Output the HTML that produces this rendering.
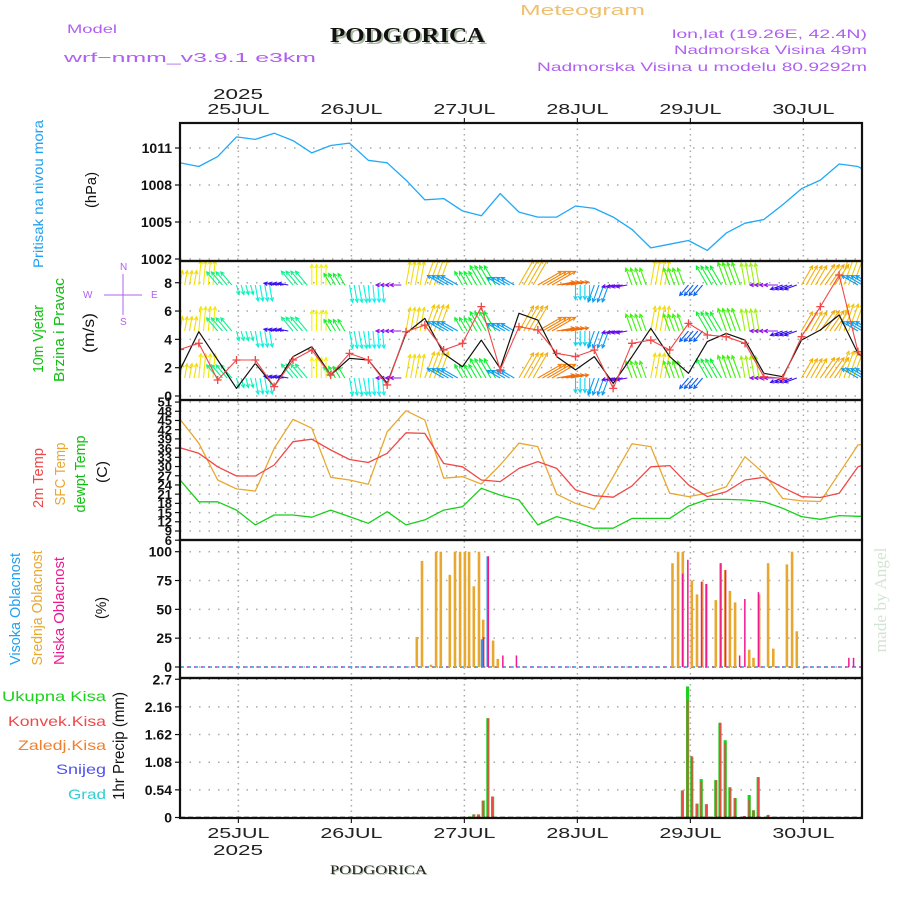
<!DOCTYPE html>
<html><head><meta charset="utf-8"><style>
html,body{margin:0;padding:0;background:#fff;}
svg{display:block;font-family:"Liberation Sans",sans-serif;}
</style></head><body>
<svg id="chart" width="900" height="900" viewBox="0 0 900 900" xmlns="http://www.w3.org/2000/svg">
<defs>
<clipPath id="cp1"><rect x="181" y="124" width="681" height="137"/></clipPath>
<clipPath id="cp2"><rect x="181" y="262" width="681" height="138"/></clipPath>
<clipPath id="cp3"><rect x="181" y="401" width="681" height="139"/></clipPath>
<clipPath id="cp4"><rect x="181" y="541" width="681" height="137"/></clipPath>
<clipPath id="cp5"><rect x="181" y="679" width="681" height="139"/></clipPath>
</defs>
<text x="67" y="33" font-size="12" fill="#b060f0" textLength="50" lengthAdjust="spacingAndGlyphs">Model</text>
<text x="64" y="62" font-size="13" fill="#b060f0" textLength="252" lengthAdjust="spacingAndGlyphs">wrf−nmm_v3.9.1 e3km</text>
<text x="332" y="44" font-size="21" font-weight="bold" font-family="Liberation Serif,serif" fill="#a8b8a0" textLength="155" lengthAdjust="spacingAndGlyphs">PODGORICA</text>
<text x="330" y="42" font-size="21" font-weight="bold" font-family="Liberation Serif,serif" fill="#111" textLength="155" lengthAdjust="spacingAndGlyphs">PODGORICA</text>
<text x="520" y="15" font-size="15" fill="#f0c070" textLength="125" lengthAdjust="spacingAndGlyphs">Meteogram</text>
<text x="867" y="38" font-size="12" fill="#b060f0" text-anchor="end" textLength="195" lengthAdjust="spacingAndGlyphs">lon,lat (19.26E, 42.4N)</text>
<text x="867" y="54" font-size="12" fill="#b060f0" text-anchor="end" textLength="193" lengthAdjust="spacingAndGlyphs">Nadmorska Visina 49m</text>
<text x="867" y="71" font-size="12" fill="#b060f0" text-anchor="end" textLength="330" lengthAdjust="spacingAndGlyphs">Nadmorska Visina u modelu 80.9292m</text>
<text x="238" y="99" font-size="15" fill="#222" text-anchor="middle" textLength="50" lengthAdjust="spacingAndGlyphs">2025</text>
<text x="238" y="855" font-size="15" fill="#222" text-anchor="middle" textLength="50" lengthAdjust="spacingAndGlyphs">2025</text>
<text x="331" y="875" font-size="13" font-family="Liberation Serif,serif" fill="#a8b8a0" textLength="97" lengthAdjust="spacingAndGlyphs">PODGORICA</text>
<text x="330" y="874" font-size="13" font-family="Liberation Serif,serif" fill="#222" textLength="97" lengthAdjust="spacingAndGlyphs">PODGORICA</text>
<text transform="translate(886,600) rotate(-90)" font-size="17" font-family="Liberation Serif,serif" fill="#d4e4d4" text-anchor="middle" textLength="105" lengthAdjust="spacingAndGlyphs">made by Angel</text>

<text transform="translate(43,194) rotate(-90)" font-size="14" fill="#20a0f0" text-anchor="middle" textLength="148" lengthAdjust="spacingAndGlyphs">Pritisak na nivou mora</text>
<text transform="translate(96,190) rotate(-90)" font-size="15" fill="#111" text-anchor="middle" textLength="36" lengthAdjust="spacingAndGlyphs">(hPa)</text>
<text transform="translate(43,339) rotate(-90)" font-size="15" fill="#10c010" text-anchor="middle" textLength="68" lengthAdjust="spacingAndGlyphs">10m Vjetar</text>
<text transform="translate(64,330) rotate(-90)" font-size="15" fill="#10c010" text-anchor="middle" textLength="104" lengthAdjust="spacingAndGlyphs">Brzina i Pravac</text>
<text transform="translate(94,333) rotate(-90)" font-size="16" fill="#111" text-anchor="middle" textLength="40" lengthAdjust="spacingAndGlyphs">(m/s)</text>
<g stroke="#b060f0" fill="#b060f0" font-size="10">
<text x="120" y="270" stroke="none">N</text><text x="120" y="325" stroke="none">S</text>
<text x="83" y="298" stroke="none">W</text><text x="151" y="298" stroke="none">E</text>
<line x1="104" y1="295" x2="142" y2="295" stroke-width="1"/><line x1="123" y1="274" x2="123" y2="315" stroke-width="1"/>
</g>
<text transform="translate(43,478) rotate(-90)" font-size="15" fill="#f04848" text-anchor="middle" textLength="60" lengthAdjust="spacingAndGlyphs">2m Temp</text>
<text transform="translate(65,474) rotate(-90)" font-size="15" fill="#e8a830" text-anchor="middle" textLength="63" lengthAdjust="spacingAndGlyphs">SFC Temp</text>
<text transform="translate(85,474) rotate(-90)" font-size="15" fill="#10c010" text-anchor="middle" textLength="77" lengthAdjust="spacingAndGlyphs">dewpt Temp</text>
<text transform="translate(107,472) rotate(-90)" font-size="15" fill="#111" text-anchor="middle" textLength="22" lengthAdjust="spacingAndGlyphs">(C)</text>
<text transform="translate(20,609) rotate(-90)" font-size="15" fill="#20a0f0" text-anchor="middle" textLength="112" lengthAdjust="spacingAndGlyphs">Visoka Oblacnost</text>
<text transform="translate(42,608) rotate(-90)" font-size="15" fill="#e8a830" text-anchor="middle" textLength="115" lengthAdjust="spacingAndGlyphs">Srednja Oblacnost</text>
<text transform="translate(64,611) rotate(-90)" font-size="15" fill="#f01890" text-anchor="middle" textLength="108" lengthAdjust="spacingAndGlyphs">Niska Oblacnost</text>
<text transform="translate(106,608) rotate(-90)" font-size="15" fill="#111" text-anchor="middle" textLength="22" lengthAdjust="spacingAndGlyphs">(%)</text>
<g font-size="14" text-anchor="end">
<text x="106" y="701" fill="#20d020" textLength="104" lengthAdjust="spacingAndGlyphs">Ukupna Kisa</text>
<text x="106" y="726" fill="#f04848" textLength="98" lengthAdjust="spacingAndGlyphs">Konvek.Kisa</text>
<text x="106" y="750" fill="#f08030" textLength="88" lengthAdjust="spacingAndGlyphs">Zaledj.Kisa</text>
<text x="106" y="774" fill="#5050f0" textLength="50" lengthAdjust="spacingAndGlyphs">Snijeg</text>
<text x="106" y="799" fill="#30d0d0" textLength="38" lengthAdjust="spacingAndGlyphs">Grad</text>
</g>
<text transform="translate(124,746) rotate(-90)" font-size="16" fill="#111" text-anchor="middle" textLength="108" lengthAdjust="spacingAndGlyphs">1hr Precip (mm)</text>
<g id="grid"></g><g id="marks"></g><g id="frames"></g>
</svg>
<script>
// ---- data (4-hourly, starting 24JUL ~12Z) ----
const dayLabels = ["25JUL","26JUL","27JUL","28JUL","29JUL","30JUL"];
const dayHours = [12.4,36.4,60.4,84.4,108.4,132.4];
const pressure = [1009.8,1009.5,1010.3,1011.9,1011.7,1012.2,1011.6,1010.6,1011.2,1011.4,1010.0,1009.8,1008.4,1006.8,1006.9,1005.9,1005.5,1007.3,1005.8,1005.4,1005.4,1006.3,1006.1,1005.4,1004.4,1002.9,1003.2,1003.5,1002.7,1004.1,1004.9,1005.2,1006.4,1007.7,1008.4,1009.7,1009.5,1008.6];
const temp2m = [36.1,34.3,29.9,26.9,26.9,30.5,38.1,38.9,35.4,32.3,31.3,34.3,41,40.8,31,29.9,25.6,25.1,29.4,31.6,29.4,22.4,20.5,20,23.7,29.9,30.3,24,20.2,21.8,25.6,26.5,23.2,20.2,19.9,21.3,29.9,31.8];
const tempSfc = [45.4,37.6,25.6,22.7,22,35.9,45.4,42.5,26.5,25.6,24.2,41.3,48.2,45.2,26.2,26.7,24.3,30.5,37.6,36.5,21,18,16.1,26.7,37.4,36.5,21.3,20.2,21.3,23.4,33.2,27.8,19.6,18.8,18.6,27.8,37,37.8];
const dewpt = [25.6,18.5,18.5,15.8,11,14.2,14.2,13.5,15.8,13.7,11.5,15.3,11,12.6,15.8,16.9,22.9,20.7,19.1,11,13.7,12,9.9,9.9,13.1,13.1,13.1,17.1,19.3,19.3,19.1,18.5,16.4,13.7,12.8,14,13.8,13.7];
const windSpeed = [1.84,4.54,2.54,0.54,2.3,0.66,2.78,3.48,1.48,2.66,2.54,0.89,4.42,5.48,3.0,2.07,3.95,1.95,5.84,5.36,2.78,1.84,2.78,0.89,2.78,4.78,2.78,1.6,3.84,4.42,3.95,1.6,1.36,3.95,4.66,5.72,3.0,2.0];
const windGust = [3.29,3.72,1.13,2.54,2.54,0.66,2.54,3.25,1.48,3.01,2.54,0.78,4.54,5.01,3.25,3.72,6.31,1.84,4.89,4.66,3.01,2.78,3.25,0.54,3.72,3.95,3.25,5.13,4.31,4.19,3.72,1.36,1.25,4.19,6.31,8.54,3.13,1.4];
const windDir = [10,5,320,165,170,280,320,0,330,170,175,270,10,20,300,330,330,300,30,60,80,180,200,260,340,10,340,220,330,340,350,270,250,30,35,20,300,290];
const midCloudHour = [50.3,51.4,53.3,54.4,55.4,57.3,58.4,59.5,60.5,61.4,62.4,63.5,64.4,66.5,67.5,104.6,105.8,106.8,108.7,109.8,110.9,111.8,113.8,114.8,115.8,116.8,117.9,120.9,121.8,123,124.9,126,128.9,130,131];
const midCloud = [26,92,2,100,100,80,100,100,100,100,70,100,41,23,7,90,100,100,75,63,74,72,58,90,84,66,56,15,8,63,90,16,89,100,31];
const lowCloudHour = [64.4,65.4,68.5,71.4,106.7,107.8,110.7,111.7,114.8,115.8,118.8,119.9,122.8,142,143];
const lowCloud = [26,96,10,10,81,93,74,72,90,84,10,59,65,8,8];
const highCloudHour = [64.3,65.5];
const highCloud = [24,96];
const precipHour = [61.5,62.4,63.4,64.4,65.4,66.4,106.7,107.8,108.7,109.8,110.7,111.8,113.8,114.7,115.8,116.8,117.9,119.9,120.9,121.8,122.8,124.9];
const precipTotal = [0.02,0.06,0.06,0.33,1.94,0.41,0.53,2.56,1.18,0.27,0.75,0.26,0.73,1.85,1.51,0.59,0.38,0.03,0.44,0.14,0.79,0.05];
const precipConv = [0.02,0.06,0.06,0.33,1.94,0.41,0.53,2.29,1.2,0.27,0.7,0.26,0.73,1.85,1.45,0.59,0.38,0.03,0.35,0.14,0.79,0.05];
const pTicks = [1011,1008,1005,1002];
const wTicks = [0,2,4,6,8];
const tTicks = [51,48,45,42,39,36,33,30,27,24,21,18,15,12,9,6];
const cTicks = [100,75,50,25,0];
const rTicks = ["2.7","2.16","1.62","1.08","0.54","0"];
const STEP = 4;

// ---- axes ----
const X0 = 180, X1 = 862;
const xOf = h => X0 + h * 113 / 24;
const pY = p => 259 - (p - 1002) * 37 / 3;
const wY = s => 396 - s * 14.16;
const tY = t => 531 - (t - 9) * 3.07;
const cY = c => 667 - c * 1.153;
const rY = r => 817.5 - r * 51.2;
const panels = [[123,261],[261,400],[400,540],[540,678],[678,818]];

const NS = "http://www.w3.org/2000/svg";
function mk(tag, parent, attrs) { const e = document.createElementNS(NS, tag); for (const k in attrs) e.setAttribute(k, attrs[k]); parent.appendChild(e); return e; }
const grid = document.getElementById('grid'), marks = document.getElementById('marks'), frames = document.getElementById('frames');

dayHours.forEach((h, i) => {
  const x = xOf(h);
  const gl = mk('line', grid, {x1:x, y1:123, x2:x, y2:818, stroke:'#aaa', 'stroke-width':1.5, 'stroke-dasharray':'1.5,4'});
  
  
  const t1 = mk('text', grid, {x:x, y:114, 'font-size':15, fill:'#222', 'text-anchor':'middle', textLength:62, lengthAdjust:'spacingAndGlyphs'});
  t1.textContent = dayLabels[i];
  
  
  const t2 = mk('text', grid, {x:x, y:838, 'font-size':15, fill:'#222', 'text-anchor':'middle', textLength:62, lengthAdjust:'spacingAndGlyphs'});
  t2.textContent = dayLabels[i];
  
  
  mk('line', frames, {x1:x, y1:118, x2:x, y2:123, stroke:'#222', 'stroke-width':1.2});
  mk('line', frames, {x1:x, y1:818, x2:x, y2:823, stroke:'#222', 'stroke-width':1.2});
});

function hgrid(ticks, fy, fs, name, valFn) {
  ticks.forEach(v => {
    const y = fy(valFn ? valFn(v) : v);
    const gl = mk('line', grid, {x1:X0, y1:y, x2:X1, y2:y, stroke:'#aaa', 'stroke-width':1.5, 'stroke-dasharray':'1.5,8'});
    
    
    mk('line', frames, {x1:X0-5, y1:y, x2:X0, y2:y, stroke:'#111', 'stroke-width':1.2});
    const t = mk('text', grid, {x:X0-8, y:y+fs*0.36, 'font-size':fs, 'font-weight':'bold', fill:'#111', 'text-anchor':'end'});
    t.textContent = v;
    
    
  });
}
hgrid(pTicks, pY, 14, 'pressure');
hgrid(wTicks, wY, 14, 'wind');
hgrid(tTicks, tY, 13, 'temp');
hgrid(cTicks, cY, 14, 'cloud');
hgrid(rTicks, rY, 14, 'precip', v => parseFloat(v));

function line(arr, fy, color, clip, name, w) {
  const pts = arr.map((v, i) => xOf(i * STEP).toFixed(1) + ',' + fy(v).toFixed(1)).join(' ');
  const pl = mk('polyline', marks, {points:pts, fill:'none', stroke:color, 'stroke-width':w || 1.3, 'clip-path':'url(#' + clip + ')', 'stroke-linejoin':'round'});
  
  
}
line(pressure, pY, '#20a8f8', 'cp1', 'pressure-line');

const hueA = [0,45,90,135,180,225,270,315,360], hueV = [60,35,22,120,188,222,275,165,60];
function hueOf(a) { a = ((a % 360) + 360) % 360; for (let i = 0; i < 8; i++) if (a <= hueA[i+1]) { const f = (a - hueA[i]) / 45; return hueV[i] + f * (hueV[i+1] - hueV[i]); } return 60; }
const rowsY = [285, 331, 378];
const wg = mk('g', marks, {'clip-path':'url(#cp2)'});


windDir.forEach((d, i) => {
  const len = 8 + windSpeed[i] * 3.6;
  const col = 'hsl(' + hueOf(d).toFixed(0) + ',90%,50%)';
  const r = d * Math.PI / 180;
  const dx = Math.sin(r) * len, dy = -Math.cos(r) * len;
  for (let k = 0; k < 4; k++) {
    const x = xOf(i * STEP + k);
    rowsY.forEach(y0 => {
      const ex = x + dx, ey = y0 + dy;
      const a1 = r + Math.PI * 0.85, a2 = r - Math.PI * 0.85;
      const path = 'M' + x.toFixed(1) + ' ' + y0 + 'L' + ex.toFixed(1) + ' ' + ey.toFixed(1) +
        'M' + (ex + Math.sin(a1) * 4).toFixed(1) + ' ' + (ey - Math.cos(a1) * 4).toFixed(1) + 'L' + ex.toFixed(1) + ' ' + ey.toFixed(1) +
        'L' + (ex + Math.sin(a2) * 4).toFixed(1) + ' ' + (ey - Math.cos(a2) * 4).toFixed(1);
      const p = mk('path', wg, {d:path, stroke:col, 'stroke-width':1.1, fill:'none'});
      
      
    });
  }
});
line(windSpeed, wY, '#111', 'cp2', 'wind-speed-line', 1.2);
line(windGust, wY, '#f04848', 'cp2', 'wind-gust-line', 1.1);
windGust.forEach((g, i) => {
  const x = xOf(i * STEP), y = wY(g);
  const c = mk('path', marks, {d:'M' + (x-4) + ' ' + y + 'H' + (x+4) + 'M' + x + ' ' + (y-4) + 'V' + (y+4), stroke:'#f04848', 'stroke-width':1.3, 'clip-path':'url(#cp2)'});
  
  
});

line(tempSfc, tY, '#e8a830', 'cp3', 'sfc-temp-line');
line(temp2m, tY, '#f04848', 'cp3', 'temp-2m-line');
line(dewpt, tY, '#18d018', 'cp3', 'dewpoint-line');

const cb = mk('line', marks, {x1:X0, y1:cY(0), x2:X1, y2:cY(0), stroke:'#20a0f0', 'stroke-width':1.5, 'stroke-dasharray':'4,3'});


mk('line', marks, {x1:X0, y1:cY(0), x2:X1, y2:cY(0), stroke:'#f01890', 'stroke-width':1, 'stroke-dasharray':'2,5'});

function bars(hours, vals, fy, color, w, off, clip, name) {
  hours.forEach((h, i) => {
    const x = xOf(h) + off, y = fy(vals[i]), y0 = fy(0);
    const b = mk('rect', marks, {x:(x - w/2).toFixed(1), y:y.toFixed(1), width:w, height:Math.max(0, y0 - y).toFixed(1), fill:color, 'clip-path':'url(#' + clip + ')'});
    
    
  });
}
bars(midCloudHour, midCloud, cY, '#e8a830', 2.6, 0, 'cp4', 'mid-cloud-bar');
bars(highCloudHour, highCloud, cY, '#20a0f0', 2.6, -0.6, 'cp4', 'high-cloud-bar');
bars(lowCloudHour, lowCloud, cY, '#f01890', 1.5, 0.3, 'cp4', 'low-cloud-bar');
bars(precipHour, precipTotal, rY, '#20d020', 3.2, 0, 'cp5', 'total-precip-bar');
bars(precipHour, precipConv, rY, '#f04848', 1.8, 0, 'cp5', 'convective-precip-bar');
const pb = mk('line', marks, {x1:X0, y1:rY(0), x2:X1, y2:rY(0), stroke:'#111', 'stroke-width':1.5, 'stroke-dasharray':'5,3'});



panels.forEach(([a, b]) => {
  const r = mk('rect', frames, {x:X0, y:a, width:X1 - X0, height:b - a, fill:'none', stroke:'#111', 'stroke-width':2.2});
  
  
});
</script>
</body></html>
